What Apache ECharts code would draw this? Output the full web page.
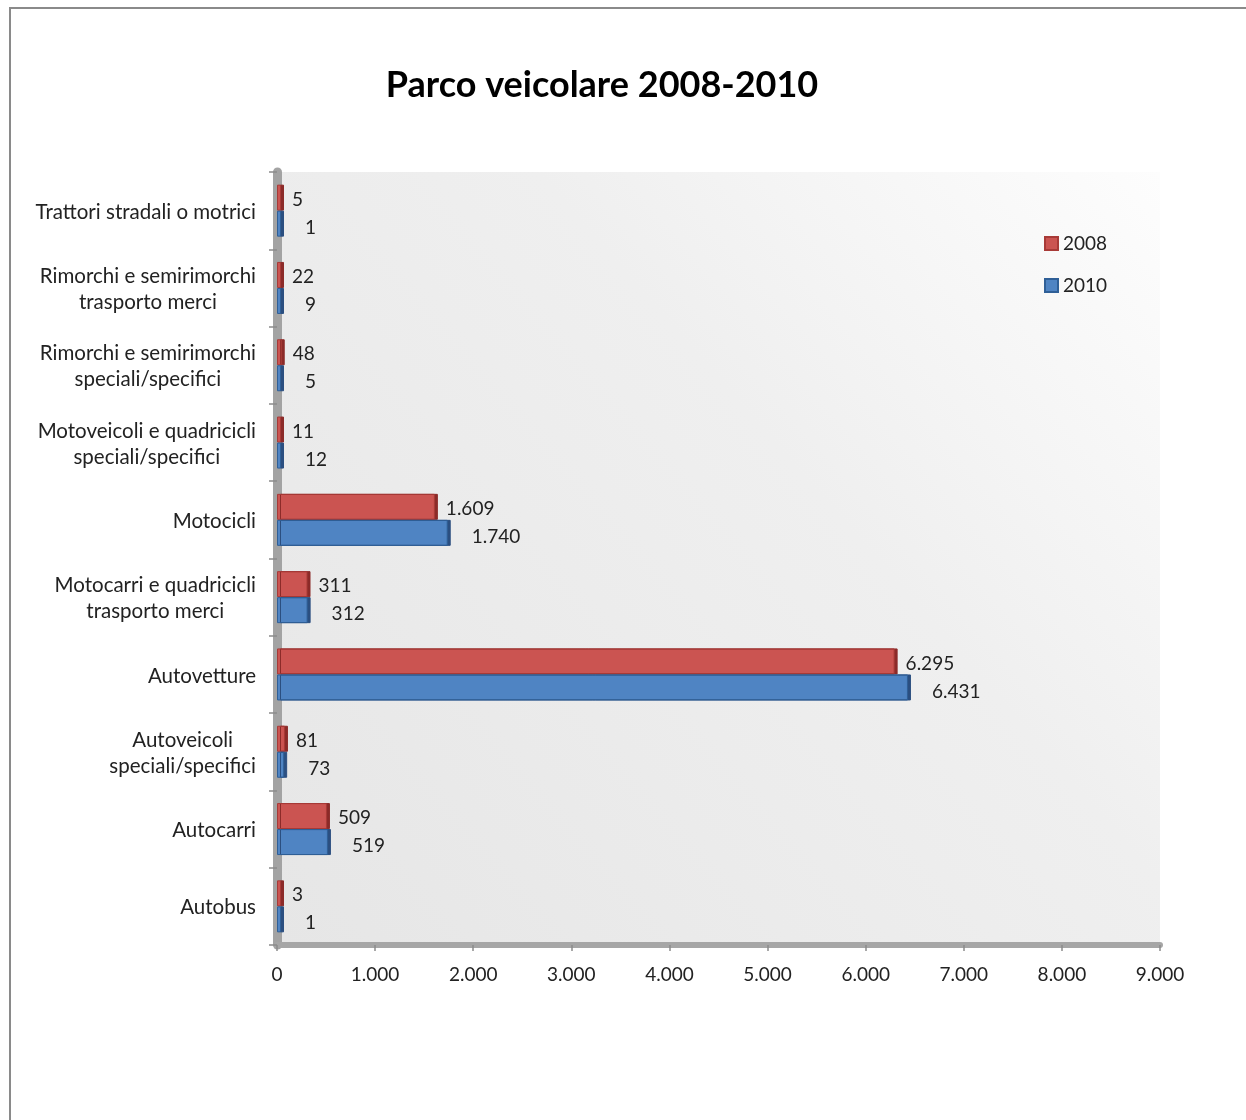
<!DOCTYPE html>
<html>
<head>
<meta charset="utf-8">
<script src="https://cdn.jsdelivr.net/npm/echarts@6/dist/echarts.min.js"></script>
<style>
html,body{margin:0;padding:0;background:#fff;}
#chart{width:1246px;height:1120px;}
</style>
</head>
<body>
<div id="chart"></div>
<script>
// Categories listed bottom-to-top (ECharts category y axis grows upward)
const categories = [
  'Autobus',
  'Autocarri',
  'Autoveicoli\nspeciali/specifici',
  'Autovetture',
  'Motocarri e quadricicli\ntrasporto merci',
  'Motocicli',
  'Motoveicoli e quadricicli\nspeciali/specifici',
  'Rimorchi e semirimorchi\nspeciali/specifici',
  'Rimorchi e semirimorchi\ntrasporto merci',
  'Trattori stradali o motrici'
];
const values2008 = [3, 509, 81, 6295, 311, 1609, 11, 48, 22, 5];
const values2010 = [1, 519, 73, 6431, 312, 1740, 12, 5, 9, 1];
const seriesNames = ['2008', '2010'];
const xTicks = [0, 1000, 2000, 3000, 4000, 5000, 6000, 7000, 8000, 9000];

function fmt(v) {
  return String(v).replace(/\B(?=(\d{3})+(?!\d))/g, '.');
}

const FONT = 'Lato, "Open Sans", sans-serif';
const chart = echarts.init(document.getElementById('chart'));

const option = {
  backgroundColor: '#ffffff',
  animation: false,
  title: {
    text: 'Parco veicolare 2008-2010',
    left: 597,
    textAlign: 'center',
    top: 62,
    textStyle: { fontFamily: FONT, fontWeight: 'bold', fontSize: 36, color: '#000' }
  },
  graphic: [{
    type: 'rect',
    shape: { x: 10, y: 8, width: 1300, height: 1300 },
    style: { fill: 'none', stroke: '#8a8a8a', lineWidth: 2 },
    silent: true,
    z: -10
  }],
  legend: {
    data: seriesNames,
    orient: 'vertical',
    left: 1039,
    top: 229,
    itemWidth: 13,
    itemHeight: 13,
    itemGap: 23,
    icon: 'rect',
    textStyle: { fontFamily: FONT, fontSize: 19, color: '#222' }
  },
  grid: {
    left: 277,
    right: 86,
    top: 172,
    bottom: 175,
    show: true,
    borderWidth: 0,
    backgroundColor: {
      type: 'linear', x: 0, y: 1, x2: 1, y2: 0,
      colorStops: [
        { offset: 0, color: '#e6e6e6' },
        { offset: 0.6, color: '#efefef' },
        { offset: 1, color: '#fdfdfd' }
      ]
    }
  },
  xAxis: {
    type: 'value',
    min: xTicks[0],
    max: xTicks[xTicks.length - 1],
    interval: 1000,
    splitLine: { show: false },
    axisLine: { show: true, lineStyle: { color: '#a6a6a6', width: 6 } },
    axisTick: { show: true, length: 6, lineStyle: { color: '#8c8c8c', width: 1.5 } },
    axisLabel: {
      fontFamily: FONT, fontSize: 19, color: '#222', margin: 20,
      formatter: v => fmt(v)
    }
  },
  yAxis: {
    type: 'category',
    data: categories,
    axisLine: { show: true, lineStyle: { color: '#a3a3a3', width: 9 } },
    axisTick: { show: true, length: 8, lineStyle: { color: '#8c8c8c', width: 1.5 } },
    axisLabel: {
      margin: 21,
      align: 'right',
      lineHeight: 26,
      formatter: v => v.split('\n').map(s => '{c|' + s + '}').join('\n'),
      rich: {
        c: { align: 'center', fontFamily: FONT, fontSize: 20.5, color: '#222', lineHeight: 26, padding: [3, 0, 0, 0] }
      }
    }
  },
  series: [
    {
      name: seriesNames[0],
      type: 'bar',
      data: values2008,
      barWidth: 26,
      barGap: '0%',
      barMinHeight: 4,
      itemStyle: {
        color: '#cb5451',
        borderColor: '#a83a37',
        borderWidth: 1,
        shadowColor: '#8c2b29',
        shadowOffsetX: 3,
        shadowBlur: 0
      },
      label: {
        show: true,
        position: 'right',
        distance: 11,
        offset: [0, 2],
        fontFamily: FONT, fontSize: 19, color: '#222',
        formatter: p => fmt(p.value)
      }
    },
    {
      name: seriesNames[1],
      type: 'bar',
      data: values2010,
      barWidth: 26,
      barGap: '0%',
      barMinHeight: 4,
      itemStyle: {
        color: '#4f84c3',
        borderColor: '#2f5f97',
        borderWidth: 1,
        shadowColor: '#2b4f80',
        shadowOffsetX: 3,
        shadowBlur: 0
      },
      label: {
        show: true,
        position: 'right',
        distance: 24,
        offset: [0, 4],
        fontFamily: FONT, fontSize: 19, color: '#222',
        formatter: p => fmt(p.value)
      }
    }
  ]
};
chart.setOption(option);
</script>
</body>
</html>
